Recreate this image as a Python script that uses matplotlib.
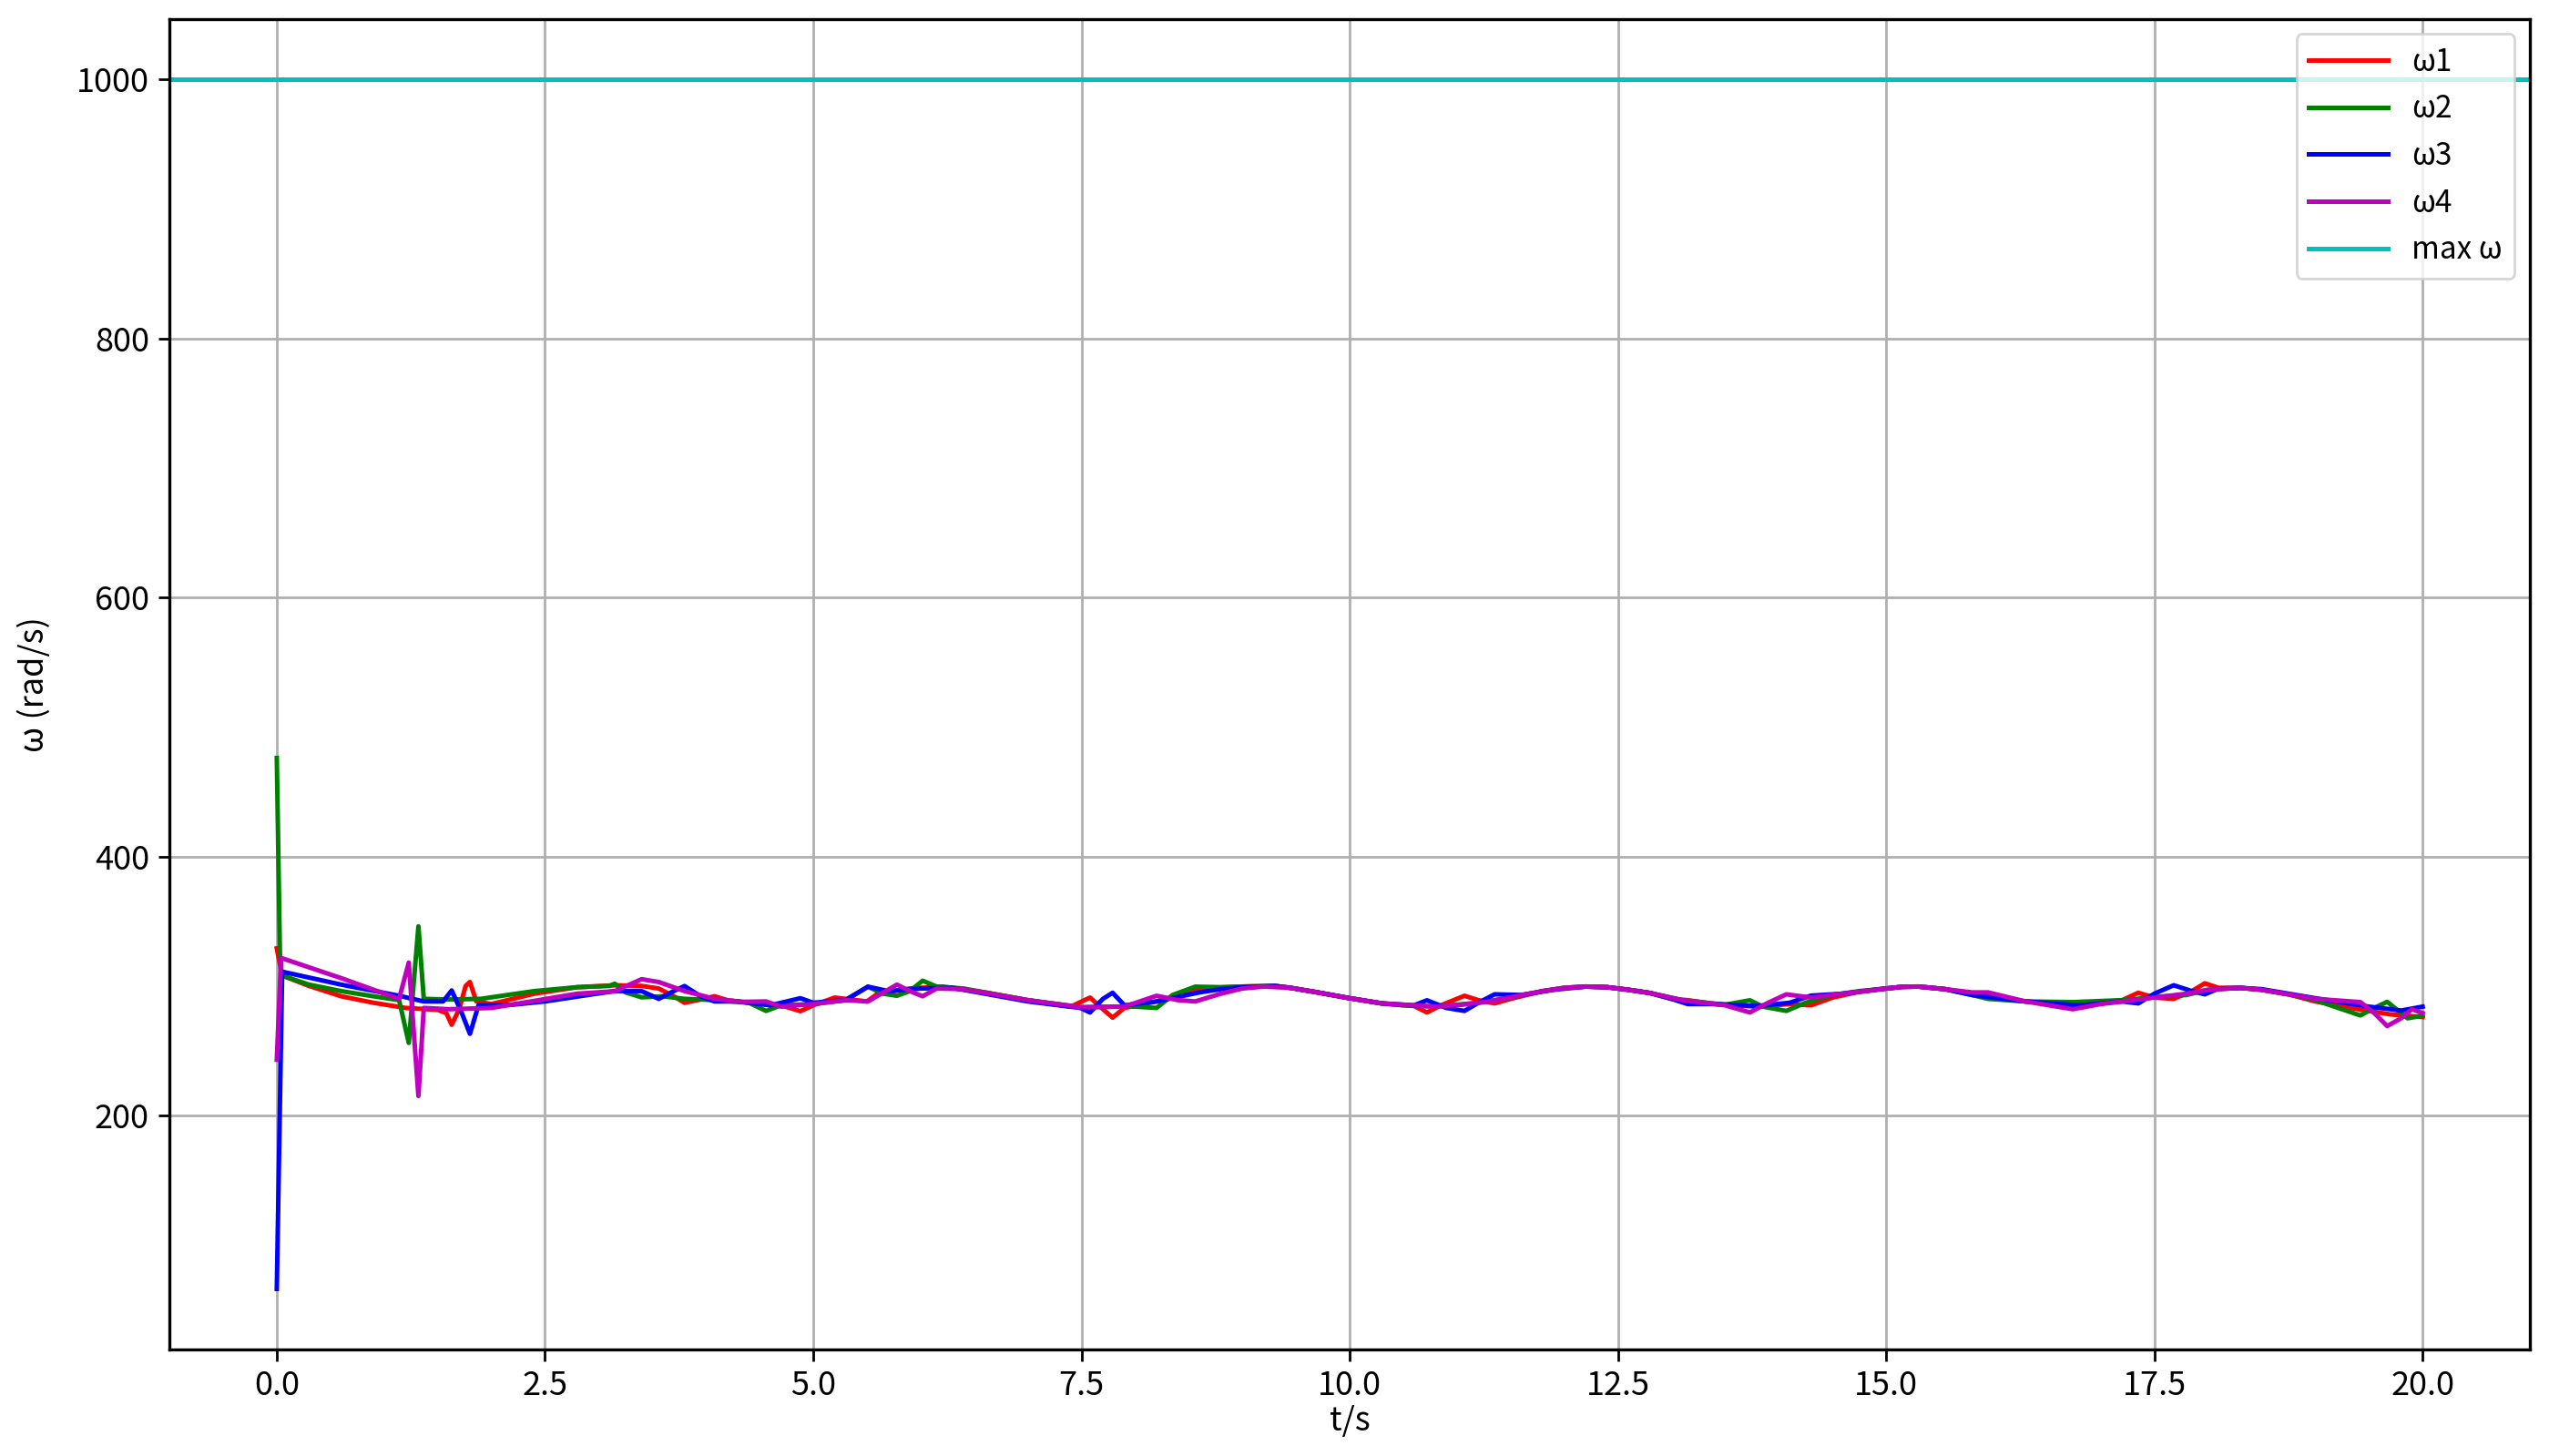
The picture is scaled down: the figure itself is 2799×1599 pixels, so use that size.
import matplotlib
matplotlib.use("Agg")
import matplotlib.pyplot as plt

plt.rcParams['font.family'] = ['Noto Sans CJK SC', 'DejaVu Sans']
plt.rcParams['axes.unicode_minus'] = False

# omega1 (red)
t1 = [0.0, 0.05, 0.3, 0.6, 0.9, 1.2, 1.5, 1.58, 1.63, 1.70, 1.76, 1.80, 1.86,
      2.0, 2.2, 2.4, 2.8, 3.15, 3.4, 3.56, 3.7, 3.8, 3.92, 4.08, 4.2, 4.4, 4.7,
      4.88, 5.0, 5.2, 5.5, 5.6, 5.9, 6.2, 6.6, 7.0, 7.4, 7.58, 7.7, 7.79, 7.9,
      8.2, 8.6, 8.8, 9.0, 9.3, 9.45, 9.7, 10.0, 10.3, 10.6, 10.72, 10.85, 11.07,
      11.2, 11.35, 11.5, 11.8, 12.0, 12.2, 12.4, 12.6, 12.8, 13.0, 13.15, 13.4,
      13.8, 14.1, 14.3, 14.5, 14.75, 15.0, 15.15, 15.3, 15.55, 15.8, 16.05,
      16.3, 16.8, 17.2, 17.35, 17.5, 17.68, 17.85, 17.97, 18.1, 18.3, 18.5,
      18.75, 19.0, 19.4, 19.7, 20.0]
w1 = [329, 308, 300, 292, 287, 283, 281.5, 279, 270, 282, 300, 303, 288,
      286, 290, 294, 299, 300.5, 300, 298, 292, 287, 289, 292, 289, 287, 285,
      280.5, 285, 291, 288, 294, 298, 299.5, 295, 289, 284, 291, 282, 275.5, 283,
      288, 297, 298.8, 299.5, 300, 298.5, 295, 290.5, 286.5, 284.5, 279.5, 285, 292.4,
      289, 286.5, 290, 296, 298.5, 299.5, 299, 297, 294.5, 290, 289, 286,
      284, 286, 285, 291, 295.5, 298, 299.3, 299.5, 297.5, 294, 291,
      288, 285, 289, 294.7, 291, 290, 296, 302, 298.5, 298.5, 297,
      293.5, 288, 282, 278, 276]

# omega2 (green)
t2 = [0.0, 0.03, 0.05, 0.3, 0.6, 0.9, 1.14, 1.23, 1.32, 1.37, 1.6, 1.9, 2.15,
      2.4, 2.8, 3.1, 3.15, 3.25, 3.4, 3.6, 3.8, 4.1, 4.4, 4.56, 4.7, 5.0, 5.3,
      5.51, 5.65, 5.78, 5.9, 6.02, 6.15, 6.4, 6.6, 7.0, 7.5, 7.8, 8.0, 8.2, 8.35,
      8.56, 8.8, 9.0, 9.3, 9.45, 9.7, 10.0, 10.3, 10.5, 10.8, 11.2, 11.5, 11.8,
      12.0, 12.2, 12.4, 12.6, 12.8, 13.1, 13.5, 13.73, 13.85, 14.07, 14.25,
      14.5, 14.75, 15.0, 15.15, 15.3, 15.55, 15.8, 15.95, 16.3, 16.74, 17.2,
      17.6, 17.8, 18.0, 18.3, 18.5, 18.75, 19.0, 19.42, 19.55, 19.67, 19.86,
      20.0]
w2 = [476, 320, 308, 301, 296, 292, 289, 256, 346, 290, 289.5, 290, 293,
      296, 299, 300, 301.7, 295, 291.2, 292, 290, 289, 287, 280.7, 285, 286, 289,
      299.4, 294, 292.4, 296, 304, 299.5, 298, 295, 289, 283.5, 284, 284, 283, 293,
      299.4, 299, 299.5, 300, 298.5, 295, 290.5, 286.5, 285, 284, 287, 291, 296,
      298.5, 299.5, 299, 297, 294.5, 289, 285.5, 288.9, 284, 280.7, 287,
      293, 296, 298, 299.3, 299.5, 297.5, 293, 290, 288, 287.5, 289,
      292, 293, 297, 298.5, 297, 293.5, 289, 277.2, 283, 287.7, 275,
      277]

# omega3 (blue)
t3 = [0.0, 0.05, 0.6, 1.14, 1.37, 1.55, 1.63, 1.72, 1.80, 1.88, 2.2, 2.5, 2.9,
      3.15, 3.4, 3.56, 3.7, 3.8, 3.95, 4.08, 4.3, 4.6, 4.88, 5.0, 5.3, 5.51,
      5.7, 6.0, 6.3, 6.6, 7.0, 7.49, 7.58, 7.7, 7.79, 7.9, 8.2, 8.6, 8.8, 9.0,
      9.3, 9.45, 9.7, 10.0, 10.3, 10.6, 10.72, 10.9, 11.07, 11.2, 11.35, 11.6,
      11.9, 12.2, 12.4, 12.6, 12.8, 13.0, 13.15, 13.4, 13.8, 14.1, 14.3, 14.6,
      14.8, 15.0, 15.15, 15.3, 15.55, 15.8, 16.05, 16.3, 16.8, 17.2, 17.35,
      17.5, 17.68, 17.85, 17.97, 18.1, 18.3, 18.5, 18.75, 19.0, 19.5, 19.8,
      20.0]
w3 = [66, 311, 301, 292.4, 288, 288, 296.5, 280, 263, 285, 285.5, 288, 293,
      296, 296, 290, 296, 299.9, 292, 288, 288, 285, 290.5, 287, 289, 299.4,
      296, 298, 298.5, 294, 288, 283, 279.5, 290, 294.7, 285, 288, 295, 297.5, 299,
      300, 298.5, 295, 290.5, 286.5, 285, 288.9, 283, 280.7, 287, 293.5, 293,
      297, 299.5, 299, 297, 294.5, 290, 286, 286, 284.5, 287, 292.5, 294,
      296, 298, 299.3, 299.5, 297.5, 293, 290.5, 288, 285, 288, 286.5,
      294, 300.5, 296, 293.5, 298, 298.5, 297.5, 294, 290.5, 284, 281,
      284]

# omega4 (magenta)
t4 = [0.0, 0.04, 0.6, 1.14, 1.23, 1.32, 1.37, 1.6, 2.0, 2.44, 2.8, 3.15, 3.4,
      3.56, 3.8, 4.08, 4.33, 4.56, 4.7, 5.0, 5.3, 5.51, 5.78, 5.9, 6.02, 6.15,
      6.4, 6.6, 7.0, 7.5, 7.9, 8.2, 8.4, 8.56, 8.8, 9.0, 9.2, 9.45, 9.7, 10.0,
      10.3, 10.8, 11.05, 11.3, 11.8, 12.0, 12.2, 12.4, 12.6, 12.8, 13.1, 13.5,
      13.73, 13.9, 14.07, 14.3, 14.6, 14.8, 15.0, 15.15, 15.3, 15.55, 15.8,
      15.95, 16.3, 16.74, 17.0, 17.4, 17.8, 18.0, 18.3, 18.5, 18.75, 19.0,
      19.42, 19.55, 19.67, 19.8, 19.9, 20.0]
w4 = [243, 321.6, 306, 290, 318, 215, 283, 282, 283, 289, 294, 295.9, 305.2,
      303, 296, 290, 287.7, 288, 284, 286, 289, 288, 301, 296, 292, 298,
      297.5, 294.7, 289, 283.5, 284, 292.4, 289, 288, 294, 298, 299.5, 298.5, 295, 290.5,
      286.5, 284, 285.5, 288, 296, 298.5, 299.5, 299, 297, 294.5, 289, 285,
      279.5, 287, 293.5, 291, 294, 296, 298, 299.3, 299.5, 297.5, 295,
      295, 288, 282, 286, 290, 294, 297, 298.5, 297, 293.5, 290,
      287.5, 279, 269, 275, 282, 279]

max_w = 1000

fig = plt.figure(figsize=(13.995, 7.995), dpi=200)
ax = fig.add_axes([0.0665, 0.0732, 0.926, 0.9138])

ax.plot(t1, w1, color='r', lw=1.8, label='ω1')
ax.plot(t2, w2, color='g', lw=1.8, label='ω2')
ax.plot(t3, w3, color='b', lw=1.8, label='ω3')
ax.plot(t4, w4, color='m', lw=1.8, label='ω4')
ax.axhline(max_w, color='c', lw=1.8, label='max ω')

ax.set_xticks([0.0, 2.5, 5.0, 7.5, 10.0, 12.5, 15.0, 17.5, 20.0])
ax.set_yticks([200, 400, 600, 800, 1000])
ax.tick_params(labelsize=13, length=4.5, width=1.0)
ax.set_xlabel('t/s', fontsize=13, labelpad=1)
ax.set_ylabel('ω (rad/s)', fontsize=13, labelpad=10)
ax.grid(True, color='#b0b0b0', lw=1.0)
for s in ax.spines.values():
    s.set_linewidth(1.2)

ax.legend(loc='upper right', fontsize=12, handlelength=2.6)

fig.savefig('out.png', dpi=200)
